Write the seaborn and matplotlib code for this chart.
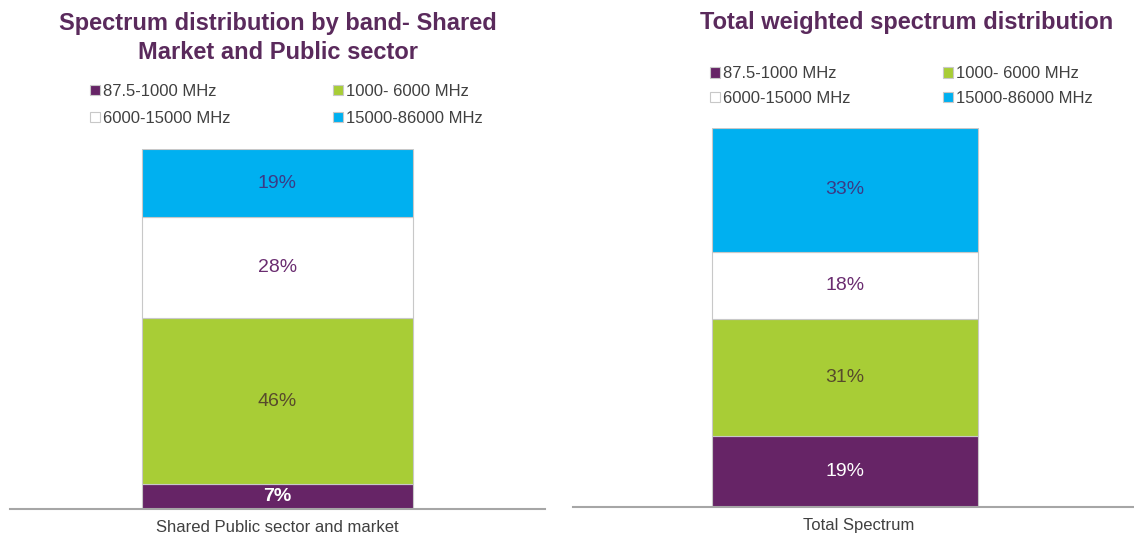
import matplotlib
matplotlib.use("Agg")
import matplotlib.pyplot as plt
import matplotlib.transforms as mtransforms
import seaborn as sns
import pandas as pd

sns.set_theme(style="white")
plt.rcParams['font.family'] = ['Liberation Sans', 'DejaVu Sans']

bands = ["87.5-1000 MHz", "1000- 6000 MHz", "6000-15000 MHz", "15000-86000 MHz"]
colors = ["#662466", "#a8cd36", "#ffffff", "#00b0f0"]
label_colors = ["#ffffff", "#574a2c", "#6a2c70", "#3b3a86"]

left_category = ["Shared Public sector and market"]
left_values = [7, 46, 28, 19]
left_title = "Spectrum distribution by band- Shared\nMarket and Public sector"

right_category = ["Total Spectrum"]
right_values = [19, 31, 18, 33]
right_title = "Total weighted spectrum distribution"

W, H = 1134, 537
fig = plt.figure(figsize=(W / 100, H / 100), dpi=100)


def px_axes(x0, x1, ytop, ybot):
    return fig.add_axes([x0 / W, (H - ybot) / H, (x1 - x0) / W, (ybot - ytop) / H])


def draw(ax, category, values, xlim, ymax, bold_first=False):
    df = pd.DataFrame({"cat": category * len(values), "band": bands, "val": values})
    bottom = 0
    handles = []
    for i, row in df.iterrows():
        sns.barplot(x=[row["cat"]], y=[row["val"]], bottom=bottom, color=colors[i],
                    width=0.6, ax=ax, saturation=1, edgecolor="#c8c8c8", linewidth=0.8)
        cont = ax.containers[-1]
        ax.bar_label(cont, labels=[f"{row['val']}%"], label_type="center",
                     color=label_colors[i], fontsize=14,
                     fontweight="bold" if (bold_first and i == 0) else "normal")
        handles.append(cont.patches[0])
        bottom += row["val"]
    ax.set_xlim(*xlim)
    ax.set_ylim(0, ymax)
    ax.set_ylabel("")
    ax.set_yticks([])
    for s in ["top", "left", "right"]:
        ax.spines[s].set_visible(False)
    ax.spines["bottom"].set_color("#a6a6a6")
    ax.spines["bottom"].set_linewidth(1.5)
    ax.tick_params(axis="x", length=0, pad=8, labelsize=12, labelcolor="#404040")
    return handles


axL = px_axes(10, 545, 149, 509)
hL = draw(axL, left_category, left_values, (-0.592, 0.593), 100, bold_first=True)
axR = px_axes(573, 1134, 128, 507)
hR = draw(axR, right_category, right_values, (-0.614, 0.652), 101)

# shift right category label slightly right, as in the reference
offset = mtransforms.ScaledTranslation(14 / 100, 0, fig.dpi_scale_trans)
for lbl in axR.get_xticklabels():
    lbl.set_transform(lbl.get_transform() + offset)

title_color = "#5a2a5c"
fig.text(278 / W, 1 - 38 / H, left_title, ha="center", va="center", fontsize=17,
         fontweight="bold", color=title_color, linespacing=1.32)
fig.text(907 / W, 1 - 22 / H, right_title, ha="center", va="center", fontsize=17,
         fontweight="bold", color=title_color)

order = [0, 2, 1, 3]


def legend(ax, handles, x, ytop, colspace, lspace):
    leg = ax.legend([handles[i] for i in order], [bands[i] for i in order], ncol=2,
                    loc="upper left", bbox_to_anchor=(x / W, 1 - ytop / H),
                    bbox_transform=fig.transFigure, frameon=False, fontsize=12,
                    handlelength=0.6, handleheight=0.6, handletextpad=0.2,
                    columnspacing=colspace, labelspacing=lspace, borderaxespad=0,
                    borderpad=0)
    for t in leg.get_texts():
        t.set_color("#404040")
    return leg


legend(axL, hL, 90, 84, 6.1, 0.70)
legend(axR, hR, 710, 66.5, 5.5, 0.55)

fig.savefig("out.png", dpi=100)
